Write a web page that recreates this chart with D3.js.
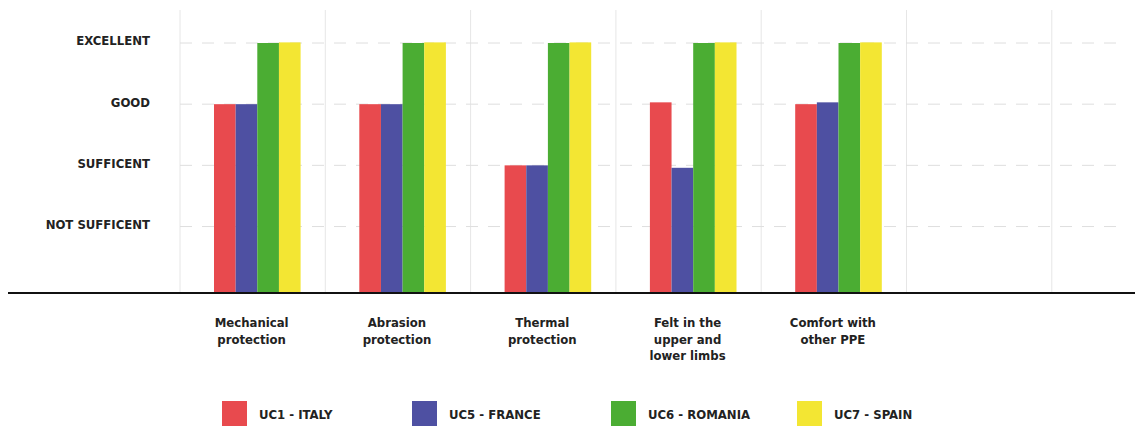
<!DOCTYPE html>
<html>
<head>
<meta charset="utf-8">
<script src="https://cdn.jsdelivr.net/npm/d3@7/dist/d3.min.js"></script>
<style>
  html, body { margin: 0; padding: 0; background: #fff; }
  svg text { font-family: "DejaVu Sans Condensed", "DejaVu Sans", sans-serif; font-stretch: condensed; font-weight: bold; fill: #222; }
</style>
</head>
<body>
<svg id="chart" width="1135" height="430"></svg>
<script>
// ---- data ----
const categories = [
  "Mechanical protection",
  "Abrasion protection",
  "Thermal protection",
  "Felt in the upper and lower limbs",
  "Comfort with other PPE"
];
const categoryLines = [
  ["Mechanical", "protection"],
  ["Abrasion", "protection"],
  ["Thermal", "protection"],
  ["Felt in the", "upper and", "lower limbs"],
  ["Comfort with", "other PPE"]
];
const seriesNames = ["UC1 - ITALY", "UC5 - FRANCE", "UC6 - ROMANIA", "UC7 - SPAIN"];
const italy   = [3, 3, 2, 3.03, 3];
const france  = [3, 3, 2, 1.96, 3.03];
const romania = [4, 4, 4, 4, 4];
const spain   = [4.01, 4.01, 4.01, 4.01, 4.01];
const tickValues = [1, 2, 3, 4];
const tickLabels = ["NOT SUFFICENT", "SUFFICENT", "GOOD", "EXCELLENT"];
const colors = ["#e84a4e", "#4e50a2", "#4bad33", "#f3e633"];

const seriesValues = [italy, france, romania, spain];

// ---- layout ----
const svg = d3.select("#chart");
const baseY = 292;
const slots = categories.concat(["__empty1", "__empty2"]);
const x0 = d3.scaleBand().domain(slots).range([180, 180 + 145.3 * 7]).paddingInner(0).paddingOuter(0);
const bw = x0.bandwidth();
const x1 = d3.scaleBand().domain(seriesNames).range([0.234 * bw, 0.83 * bw]).padding(0);
const y = d3.scaleLinear().domain([-0.07, 4]).range([baseY, 43]);

// vertical grid lines
svg.append("g").selectAll("line").data(slots).join("line")
  .attr("x1", d => x0(d)).attr("x2", d => x0(d))
  .attr("y1", 10).attr("y2", baseY)
  .attr("stroke", "#e6e6e6").attr("stroke-width", 1);

// horizontal dashed grid lines
svg.append("g").selectAll("line").data(tickValues).join("line")
  .attr("x1", 180).attr("x2", 1117)
  .attr("y1", d => y(d)).attr("y2", d => y(d))
  .attr("stroke", "#dedede").attr("stroke-width", 1)
  .attr("stroke-dasharray", "12,10");

// y labels
const yAxis = d3.axisLeft(y).tickValues(tickValues)
  .tickFormat((d, i) => tickLabels[i]).tickSize(0).tickPadding(0);
const yg = svg.append("g").attr("transform", "translate(150,0)").call(yAxis);
yg.select(".domain").remove();
yg.selectAll("text").attr("font-size", 13).attr("dy", "0.15em")
  .style("fill", "#222");

// bars
const rows = categories.map((c, ci) => ({ c, vals: seriesNames.map((s, si) => ({ s, si, v: seriesValues[si][ci] })) }));
svg.append("g").selectAll("g").data(rows).join("g")
  .attr("transform", d => `translate(${x0(d.c)},0)`)
  .selectAll("rect").data(d => d.vals).join("rect")
  .attr("x", d => x1(d.s))
  .attr("width", x1.bandwidth())
  .attr("y", d => y(d.v))
  .attr("height", d => baseY - y(d.v))
  .attr("fill", d => colors[d.si]);

// baseline
svg.append("line").attr("x1", 8).attr("x2", 1135).attr("y1", baseY + 1).attr("y2", baseY + 1)
  .attr("stroke", "#111").attr("stroke-width", 2);

// x labels
const xl = svg.append("g").selectAll("text").data(categories).join("text")
  .attr("x", d => x0(d) + bw / 2 - 1)
  .attr("y", 327)
  .attr("text-anchor", "middle")
  .attr("font-size", 13);
xl.selectAll("tspan").data((d, i) => categoryLines[i]).join("tspan")
  .attr("x", function () { return d3.select(this.parentNode).attr("x"); })
  .attr("dy", (d, i) => i === 0 ? 0 : 16.5)
  .text(d => d);

// legend
const legendX = [222, 412, 611, 797];
const lg = svg.append("g").selectAll("g").data(seriesNames).join("g")
  .attr("transform", (d, i) => `translate(${legendX[i]},401)`);
lg.append("rect").attr("width", 25).attr("height", 25).attr("fill", (d, i) => colors[i]);
lg.append("text").attr("x", 37).attr("y", 13).attr("dy", "0.35em")
  .attr("font-size", 13).text(d => d);
</script>
</body>
</html>
